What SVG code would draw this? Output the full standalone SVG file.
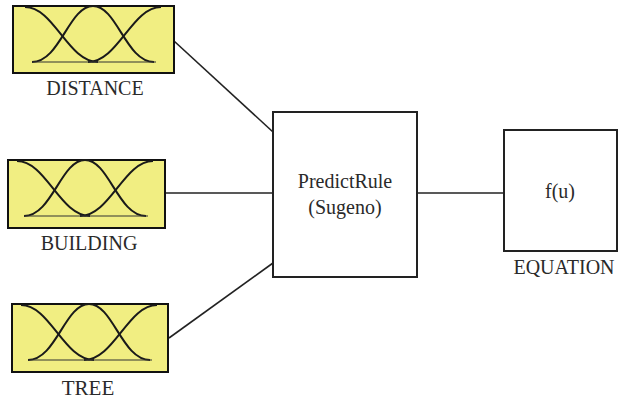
<svg xmlns="http://www.w3.org/2000/svg" xmlns:xlink="http://www.w3.org/1999/xlink" width="618" height="401" viewBox="0 0 618 401">
<style>
.mfbox{fill:#f1ee82;stroke:#111;stroke-width:2}
.mf{fill:none;stroke:#1a1a1a;stroke-width:2}
.base{fill:none;stroke:#333;stroke-width:1.2}
.box{fill:#fff;stroke:#222;stroke-width:2}
.conn{stroke:#222;stroke-width:1.6;fill:none}
text{font-family:'Liberation Serif','Times New Roman',serif;font-size:20px;fill:#2a2a2a;text-anchor:middle}
</style>
<defs>
<g id="mfs">
<path class="mf" d="M11,7 C40,7 54,62 84,62"/>
<path class="mf" d="M18,62 C46,62 55,6 79,6 C103,6 112,62 140,62"/>
<path class="mf" d="M74,62 C104,62 118,7 147,7"/>
<path class="base" d="M18,62 H142"/>
</g>
</defs>
<rect width="618" height="401" fill="#fff"/>
<g id="connectors">
<line class="conn" x1="174" y1="41" x2="273" y2="132"/>
<line class="conn" x1="166" y1="193" x2="273" y2="193"/>
<line class="conn" x1="169" y1="338" x2="273" y2="263"/>
<line class="conn" x1="417" y1="193" x2="504" y2="193"/>
</g>
<g id="distance">
<rect class="mfbox" x="13" y="6" width="161" height="67"/>
<use xlink:href="#mfs" x="14" y="0"/>
<text x="95" y="95">DISTANCE</text>
</g>
<g id="building">
<rect class="mfbox" x="8" y="160" width="157" height="68"/>
<use xlink:href="#mfs" x="6" y="154"/>
<text x="89" y="250">BUILDING</text>
</g>
<g id="tree">
<rect class="mfbox" x="12" y="304" width="156" height="68"/>
<use xlink:href="#mfs" x="10" y="298"/>
<text x="88" y="395" style="font-size:21px">TREE</text>
</g>
<g id="predictrule">
<rect class="box" x="273" y="112" width="144" height="165"/>
<text x="345" y="188">PredictRule</text>
<text x="345" y="214">(Sugeno)</text>
</g>
<g id="equation">
<rect class="box" x="504" y="130" width="113" height="121"/>
<text x="560" y="198">f(u)</text>
<text x="564" y="274">EQUATION</text>
</g>
</svg>
